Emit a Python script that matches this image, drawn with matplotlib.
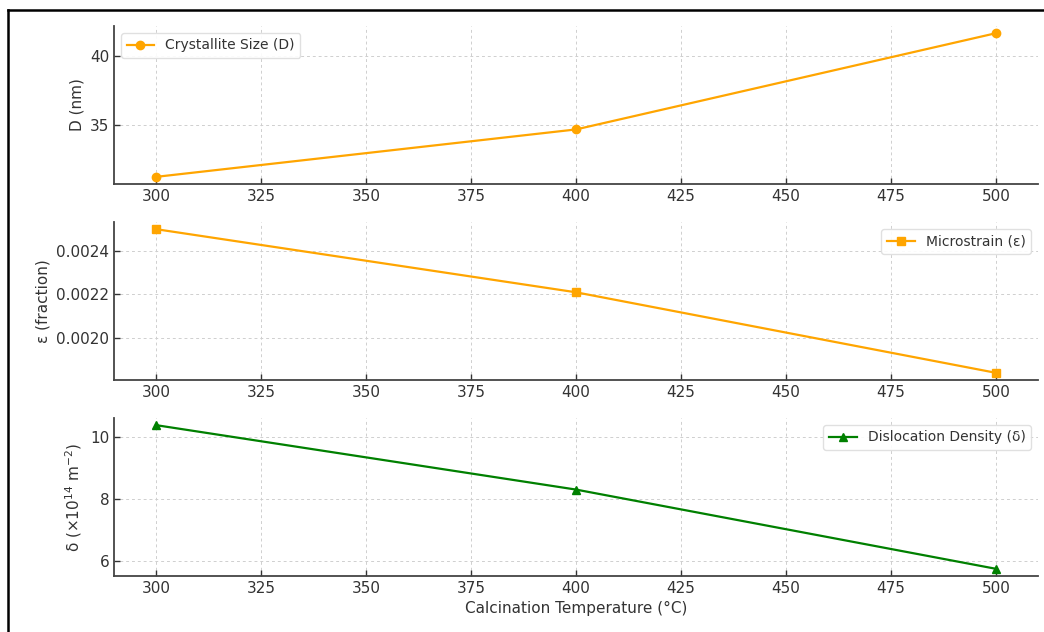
import numpy as np
import matplotlib
matplotlib.use("Agg")
import matplotlib.pyplot as plt
from matplotlib.lines import Line2D
from matplotlib.ticker import MultipleLocator

# Data
temps = [300, 400, 500]
crystallite_size = [31.3, 34.7, 41.6]          # nm
microstrain = [0.00250, 0.00221, 0.00184]      # fraction
dislocation_density = [10.40, 8.31, 5.74]      # x1e14 m^-2

TEXT = "#333333"
plt.rcParams.update({
    "font.family": "DejaVu Sans",
    "font.size": 11,
    "text.color": TEXT,
    "axes.labelcolor": TEXT,
    "xtick.color": TEXT,
    "ytick.color": TEXT,
    "axes.edgecolor": "#444444",
})

fig, axes = plt.subplots(3, 1, figsize=(10.44, 6.32), dpi=100)
fig.subplots_adjust(left=114 / 1044, right=1038 / 1044,
                    top=1 - 26 / 632, bottom=1 - 576 / 632, hspace=0.24)

series = [
    (crystallite_size, "o", "orange", "Crystallite Size (D)", "D (nm)", "upper left"),
    (microstrain, "s", "orange", "Microstrain (ε)", "ε (fraction)", "upper right"),
    (dislocation_density, "^", "green", "Dislocation Density (δ)",
     r"δ (×10$^{14}$ m$^{-2}$)", "upper right"),
]

for ax, (vals, mk, col, lab, ylab, loc) in zip(axes, series):
    ax.plot(temps, vals, marker=mk, color=col, lw=1.6, ms=6, label=lab)
    ax.set_ylabel(ylab, fontsize=11)
    ax.set_xticks([300, 325, 350, 375, 400, 425, 450, 475, 500])
    ax.grid(True, ls=(0, (3, 3)), color="#cfcfcf", lw=0.7)
    ax.set_axisbelow(True)
    for s in ("top", "right"):
        ax.spines[s].set_visible(False)
    for s in ("left", "bottom"):
        ax.spines[s].set_linewidth(1.3)
    ax.tick_params(direction="in", length=4, width=1, labelsize=11)
    leg = ax.legend(loc=loc, fontsize=10, frameon=True, fancybox=True,
                    framealpha=0.9, edgecolor="#dddddd")
    for t in leg.get_texts():
        t.set_color(TEXT)

axes[0].yaxis.set_major_locator(MultipleLocator(5))
axes[1].set_yticks([0.0020, 0.0022, 0.0024])
axes[1].set_yticklabels(["0.0020", "0.0022", "0.0024"])
axes[2].set_xlabel("Calcination Temperature (°C)", fontsize=11)

# black screenshot frame (left and top edges)
x0 = 8 / 1044
y0 = 1 - 10 / 632
fig.add_artist(Line2D([x0, x0], [0, y0], transform=fig.transFigure,
                      color="black", lw=1.8))
fig.add_artist(Line2D([x0, 1], [y0, y0], transform=fig.transFigure,
                      color="black", lw=1.8))

fig.savefig("out.png", dpi=100)
plt.close(fig)
